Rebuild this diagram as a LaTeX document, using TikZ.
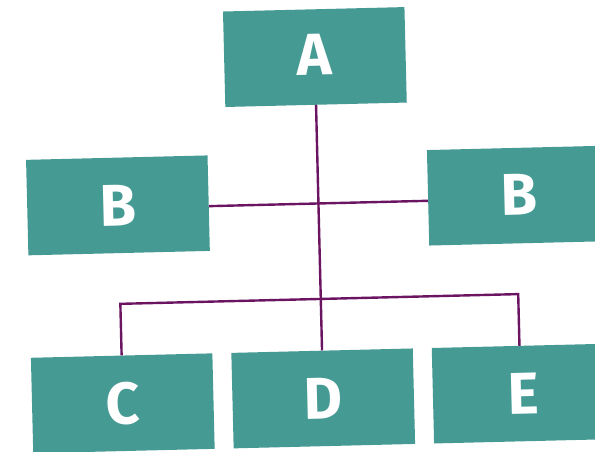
\documentclass[tikz,border=0pt]{standalone}
\usepackage{fontspec}
\setmainfont{Fira Sans}
\definecolor{tealbox}{HTML}{459A93}
\definecolor{linkpurple}{HTML}{6B1462}
\begin{document}
\begin{tikzpicture}[x=1pt,y=-1pt,
  box/.style={fill=tealbox, draw=none, minimum width=181.5pt, minimum height=95.5pt,
    inner sep=0pt, text=white, transform shape,
    font=\fontsize{59}{59}\selectfont\bfseries},
  link/.style={draw=linkpurple, line width=2.4pt}]
\useasboundingbox (0,0) rectangle (595,452);
\clip (0,0) rectangle (595,452);
\begin{scope}[rotate around={1.4:(297.5,226)}]
  % boxes of the chart
  \node[box] (A)  at (319,57.5)  {\raisebox{5pt}{A}};
  \node[box] (BL) at (118.5,201) {B};
  \node[box] (BR) at (519.5,201) {\raisebox{1pt}{B}};
  \node[box] (C)  at (118.5,399) {\raisebox{-2pt}{C}};
  \node[box] (D)  at (319,399)   {D};
  \node[box] (E)  at (519.5,399) {E};
  % bus junctions
  \coordinate (busL) at (118.5,299.5);
  \coordinate (busR) at (516.5,299.5);
  \coordinate (Etop) at (516.5,351.25);
  % connectors
  \draw[link] (A.south) -- (D.north);
  \draw[link] ([yshift=-3pt]BL.east) -- ([yshift=-3pt]BR.west);
  \draw[link] (C.north) -- (busL) -- (busR) -- (Etop);
\end{scope}
\end{tikzpicture}
\end{document}
